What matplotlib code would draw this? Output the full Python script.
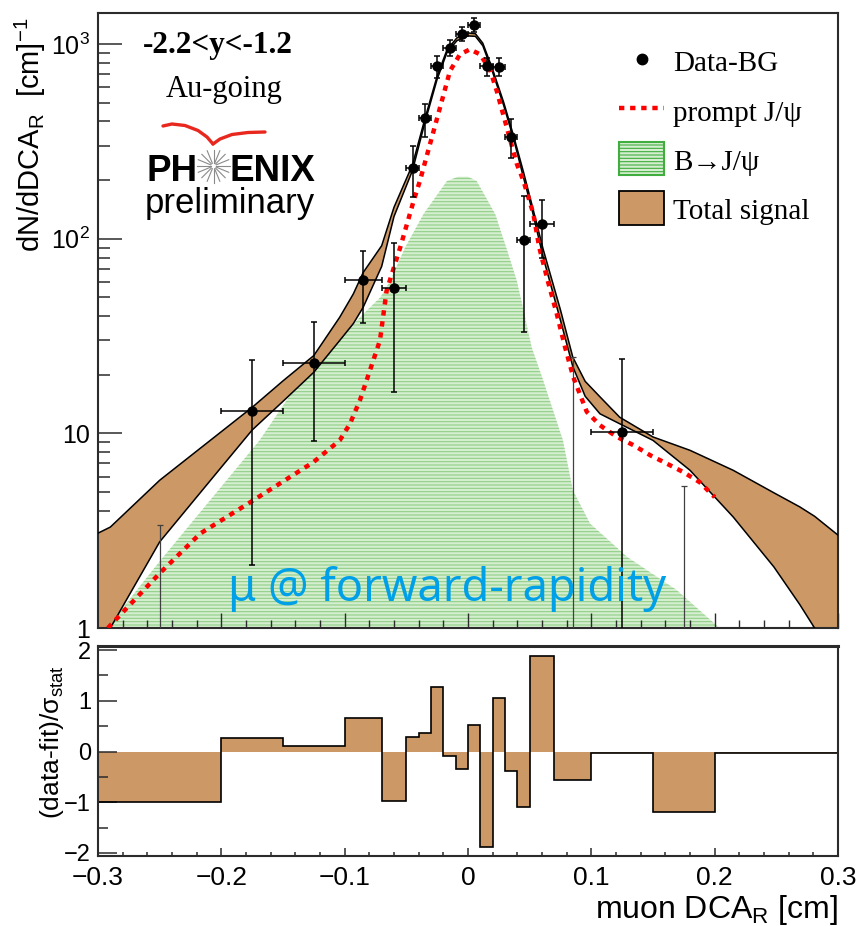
import numpy as np
import matplotlib
matplotlib.use("Agg")
import matplotlib.pyplot as plt
from matplotlib.lines import Line2D
from matplotlib.patches import Patch
from matplotlib.ticker import (FixedLocator, FixedFormatter, NullFormatter,
                               MultipleLocator, LogLocator, FuncFormatter)

# ---------------------------------------------------------------- data
# DCA_R binning shared by the spectrum and the pull histogram [cm]
bin_edges = [-0.3, -0.2, -0.15, -0.1, -0.07, -0.05, -0.04, -0.03, -0.02, -0.01,
             0.0, 0.01, 0.02, 0.03, 0.04, 0.05, 0.07, 0.1, 0.15, 0.2, 0.3]

# (data - fit) / sigma_stat per bin
pulls = [-1.0, 0.26, 0.105, 0.66, -0.97, 0.28, 0.36, 1.27, -0.085, -0.34,
         0.52, -1.875, 1.05, -0.39, -1.10, 1.89, -0.57, -0.03, -1.19, -0.03]

# Data-BG yields per bin, with lower / upper ends of the statistical errors
counts = [0.4, 13.0, 23.0, 61.6, 55.6, 232, 416, 771, 951, 1130,
          1251, 771, 763, 334, 98.5, 119, 0.4, 10.1, 0.4, 0.2]
count_lo = [0.1, 2.1, 9.1, 36.8, 16.3, 163, 331, 671, 866, 1036,
            1156, 685, 685, 261, 33, 80, 0.1, 0.2, 0.1, 0.1]
count_hi = [3.37, 23.7, 37.2, 86.8, 95, 300, 492, 867, 1048, 1223,
            1354, 850, 850, 413, 165, 158.6, 24.6, 24.2, 5.37, 0.5]

# prompt J/psi component
prompt_x = [-0.292, -0.25, -0.217, -0.174, -0.1255, -0.104, -0.0957, -0.0876,
            -0.0714, -0.066, -0.055, -0.044, -0.039, -0.0227, -0.0146, -0.0065,
            0.0016, 0.0097, 0.0178, 0.0233, 0.0395, 0.045, 0.053, 0.0578,
            0.0646, 0.072, 0.0787, 0.0854, 0.0963, 0.107, 0.1206, 0.134,
            0.148, 0.161, 0.175, 0.188, 0.2]
prompt_y = [1.0, 1.91, 3.06, 4.53, 7.1, 9.2, 11.2, 14.8,
            30.0, 54, 90, 157, 198, 471, 727, 885,
            939, 885, 741, 574, 243, 198, 134, 90,
            61, 41, 27.7, 19.4, 12.9, 11.0, 9.6, 8.7,
            7.7, 7.0, 6.3, 5.6, 4.7]

# B -> J/psi component
bjpsi_x = [-0.293, -0.25, -0.169, -0.1417, -0.0876, -0.071, -0.063, -0.051,
           -0.036, -0.017, -0.008, 0.0, 0.007, 0.022, 0.031, 0.0395, 0.045,
           0.0516, 0.06, 0.077, 0.085, 0.099, 0.129, 0.169, 0.204]
bjpsi_y = [1.0, 2.2, 9.2, 16.6, 39.5, 50, 61, 90,
           134, 198, 208, 208, 198, 134, 90, 61, 43,
           27.7, 19.5, 9.2, 5.1, 3.44, 2.32, 1.57, 1.0]

# total signal band (upper / lower edge)
total_x = [-0.3, -0.29, -0.25, -0.2, -0.175, -0.15, -0.125, -0.104, -0.093,
           -0.085, -0.07, -0.06, -0.045, -0.035, -0.025, -0.017, -0.009, 0.0,
           0.006, 0.012, 0.02, 0.029, 0.037, 0.045, 0.052, 0.061, 0.075, 0.085,
           0.095, 0.107, 0.123, 0.15, 0.18, 0.215, 0.248, 0.269, 0.281, 0.3]
total_hi = [3.07, 3.3, 5.74, 10.2, 13.6, 18.6, 25.1, 39.5, 52,
            67, 92, 145, 240, 412, 685, 935, 1075, 1140,
            1130, 1010, 740, 500, 337, 220, 148, 88, 43, 24.6,
            18.5, 15.4, 12.1, 9.58, 8.18, 6.46, 4.95, 4.19, 3.75, 3.0]
total_lo = [0.8, 1.0, 2.77, 6.7, 10.4, 14.6, 20.6, 30, 36.6,
            44.4, 72, 130, 224, 394, 660, 905, 1040, 1100,
            1095, 980, 715, 482, 325, 206, 140, 80, 38, 22,
            15.5, 12.6, 11.2, 9.2, 6.46, 3.72, 2.06, 1.32, 1.0, 0.6]

# ---------------------------------------------------------------- style
BROWN = "#cc9966"
GREEN_FACE = "#d6eed0"
GREEN_HATCH = "#8fcf86"
AXCOL = "#2b2b2b"
SANS = ["Liberation Sans", "DejaVu Sans"]
SERIF = ["Liberation Serif", "DejaVu Serif"]

plt.rcParams["font.family"] = SANS
plt.rcParams["mathtext.fontset"] = "custom"
plt.rcParams["mathtext.rm"] = "Liberation Sans"
plt.rcParams["mathtext.it"] = "Liberation Sans:italic"
plt.rcParams["mathtext.sf"] = "Liberation Sans"
plt.rcParams["hatch.linewidth"] = 0.8

W, H = 858, 926
fig = plt.figure(figsize=(W / 100, H / 100), dpi=100)


def fx(px):
    return px / W


def fy(py):
    return 1 - py / H


ax = fig.add_axes([fx(98), fy(628), (838 - 98) / W, (628 - 13) / H])
axr = fig.add_axes([fx(98), fy(856), (838 - 98) / W, (856 - 646) / H])

edges = np.array(bin_edges)
centers = 0.5 * (edges[:-1] + edges[1:])
half_w = 0.5 * (edges[1:] - edges[:-1])
counts_a = np.array(counts)
yerr = np.array([counts_a - np.array(count_lo), np.array(count_hi) - counts_a])

# ---------------------------------------------------------------- spectrum
ax.set_yscale("log")
ax.set_xlim(-0.3, 0.3)
ax.set_ylim(1, 1443)

ax.fill_between(bjpsi_x, 0.5, bjpsi_y, facecolor=GREEN_FACE, hatch="-----",
                edgecolor=GREEN_HATCH, linewidth=0, zorder=1)
ax.fill_between(total_x, total_lo, total_hi, facecolor=BROWN, edgecolor="none",
                zorder=2)
ax.plot(total_x, total_hi, color="k", lw=1.1, zorder=3)
ax.plot(total_x, total_lo, color="k", lw=1.1, zorder=3)
ax.plot(prompt_x, prompt_y, color="#ff0000", lw=3.2, dashes=(1.2, 1.3),
        zorder=4)

# points inside the frame and points whose marker lies below it
shown = counts_a >= 1
for m, col, lw in ((shown, "k", 1.1), (~shown, "#404040", 0.9)):
    ax.errorbar(centers[m], counts_a[m], xerr=half_w[m], yerr=yerr[:, m],
                fmt="o", color=col, ms=6.5, elinewidth=lw, capsize=2.5,
                capthick=lw, zorder=5)

ax.yaxis.set_major_locator(FixedLocator([1, 10, 100, 1000]))
ax.yaxis.set_major_formatter(FixedFormatter(["1", "10", "$10^{2}$", "$10^{3}$"]))
ax.yaxis.set_minor_locator(LogLocator(base=10, subs=np.arange(2, 10)))
ax.yaxis.set_minor_formatter(NullFormatter())
ax.xaxis.set_major_locator(MultipleLocator(0.1))
ax.xaxis.set_minor_locator(MultipleLocator(0.02))
ax.tick_params(axis="x", labelbottom=False)
ax.tick_params(axis="y", which="major", direction="in", length=17, width=1.1,
               labelsize=18, pad=6, colors=AXCOL, labelcolor="k")
ax.tick_params(axis="y", which="minor", direction="in", length=8.5, width=1.1,
               colors=AXCOL)
ax.tick_params(axis="x", which="major", direction="in", length=11, width=1.0,
               colors=AXCOL)
ax.tick_params(axis="x", which="minor", direction="in", length=5.5, width=1.0,
               colors=AXCOL)
for s in ax.spines.values():
    s.set_linewidth(1.5)
    s.set_color(AXCOL)

# legend
handles = [
    Line2D([], [], marker="o", color="k", ls="none", ms=7.5),
    Line2D([], [], color="#ff0000", lw=3.2, dashes=(1.2, 1.3)),
    Patch(facecolor=GREEN_FACE, edgecolor="#3fae3f", hatch="-----", lw=1.5),
    Patch(facecolor=BROWN, edgecolor="k", lw=1.3),
]
labels = ["Data-BG", "prompt J/\u03c8", "B\u2192J/\u03c8", "Total signal"]
leg = ax.legend(handles, labels, loc="upper left",
                bbox_to_anchor=((619 - 98) / 740, (628 - 46) / 615),
                frameon=False, prop={"family": SERIF, "size": 21},
                handlelength=1.55, handleheight=1.25, handletextpad=0.3,
                labelspacing=0.62, borderpad=0, borderaxespad=0)
for h in leg.legend_handles[2:]:
    h.set_height(h.get_height() * 1.1)

# annotations
ax.text((218 - 98) / 740, (628 - 53) / 615, "-2.2<y<-1.2", transform=ax.transAxes,
        ha="center", va="baseline", family=SERIF, weight="bold", size=22.5)
ax.text((224 - 98) / 740, (628 - 97) / 615, "Au-going", transform=ax.transAxes,
        ha="center", va="baseline", family=SERIF, size=22)

# PHENIX logo
fig.text(fx(198), fy(181), "PH", ha="right", va="baseline", family=SANS,
         weight="bold", size=26.5)
fig.text(fx(229), fy(181), "ENIX", ha="left", va="baseline", family=SANS,
         weight="bold", size=26.5)
star_c = (213.5, 166)
for ang in np.linspace(0, 2 * np.pi, 16, endpoint=False):
    r0, r1 = 3.0, 16.5
    xs = [star_c[0] + r0 * np.cos(ang), star_c[0] + r1 * np.cos(ang)]
    ys = [star_c[1] + r0 * np.sin(ang), star_c[1] + r1 * np.sin(ang)]
    fig.add_artist(Line2D([fx(v) for v in xs], [fy(v) for v in ys],
                          color="#8a8a8a", lw=0.8, transform=fig.transFigure))
swoosh_l = [(163, 126), (172, 124), (185, 125.5), (198, 130.5), (207, 137),
            (213, 144)]
swoosh_r = [(213, 144), (220, 139), (232, 134.5), (248, 132.5), (265, 132)]
for pts in (swoosh_l, swoosh_r):
    fig.add_artist(Line2D([fx(p[0]) for p in pts], [fy(p[1]) for p in pts],
                          color="#e8281e", lw=2.4, solid_capstyle="round",
                          transform=fig.transFigure))
fig.text(fx(230), fy(213), "preliminary", ha="center", va="baseline",
         family=SANS, size=25)

ax.text((447 - 98) / 740, (628 - 601) / 615, "\u03bc @ forward-rapidity",
        transform=ax.transAxes, ha="center", va="baseline", color="#00a0e9",
        family=["Noto Sans", "DejaVu Sans"], size=32.5, zorder=6)

fig.text(fx(30), fy(135), "dN/dDCA$_{\\mathrm{R}}$  [cm]$^{-1}$", rotation=90,
         ha="center", va="center", size=21)

# ---------------------------------------------------------------- pulls
axr.stairs(pulls, edges, fill=True, color=BROWN, baseline=0, zorder=1)
axr.stairs(pulls, edges, baseline=None, color="k", lw=1.2, zorder=2)
axr.set_xlim(-0.3, 0.3)
axr.set_ylim(-2.06, 2.08)
axr.yaxis.set_major_locator(MultipleLocator(1))
axr.yaxis.set_minor_locator(MultipleLocator(0.5))
axr.yaxis.set_major_formatter(
    FuncFormatter(lambda v, p: f"{v:.0f}".replace("-", "\u2212")))
axr.xaxis.set_major_locator(MultipleLocator(0.1))
axr.xaxis.set_minor_locator(MultipleLocator(0.02))
axr.xaxis.set_major_formatter(
    FuncFormatter(lambda v, p: "0" if abs(v) < 1e-9
                  else f"{v:.1f}".replace("-", "\u2212")))
axr.tick_params(axis="y", which="major", direction="in", length=13.5, width=1.1,
                labelsize=17, pad=5, colors=AXCOL, labelcolor="k")
axr.tick_params(axis="y", which="minor", direction="in", length=7, width=1.1,
                colors=AXCOL)
axr.tick_params(axis="x", which="major", direction="in", length=6, width=1.1,
                labelsize=19, pad=7, colors=AXCOL, labelcolor="k")
axr.tick_params(axis="x", which="minor", direction="in", length=3, width=1.1,
                colors=AXCOL)
for s in axr.spines.values():
    s.set_linewidth(1.5)
    s.set_color(AXCOL)
axr.spines["top"].set_linewidth(2.2)

fig.text(fx(52), fy(742), "(data-fit)/\u03c3$_{\\mathrm{stat}}$", rotation=90,
         ha="center", va="center", size=19)
fig.text(fx(838), fy(918), "muon DCA$_{\\mathrm{R}}$ [cm]", ha="right",
         va="baseline", size=23)

fig.savefig("out.png", dpi=100)
